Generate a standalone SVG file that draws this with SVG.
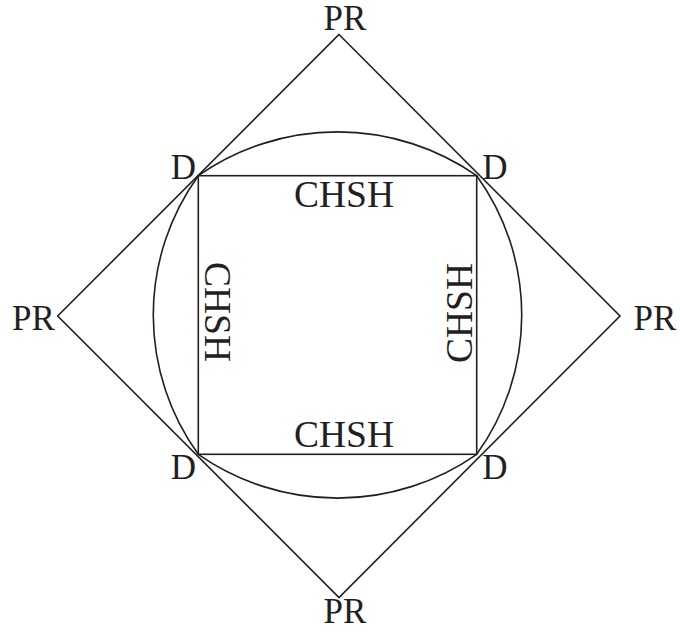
<svg xmlns="http://www.w3.org/2000/svg" width="680" height="635" viewBox="0 0 680 635">
<style>
.ln{fill:none;stroke:#231f20;stroke-width:1.6;stroke-linejoin:miter}
.t{font-family:"Liberation Serif","Times New Roman",serif;font-size:35px;fill:#231f20}
.c{font-size:37.5px}
.m{text-anchor:middle}
</style>
<rect width="680" height="635" fill="#fff"/>
<g id="connectors">
<path id="diamond" class="ln" d="M339,34.5 L620,316 L339,597.5 L57.7,316 Z"/>
<path id="rounded" class="ln" d="M198.3,175.7 A243,243 0 0 1 476.7,175.7 A238,238 0 0 1 476.7,454.3 A243,243 0 0 1 198.3,454.3 A238,238 0 0 1 198.3,175.7 Z"/>
<rect id="square" class="ln" x="198.3" y="175.7" width="278.4" height="278.6"/>
</g>
<g id="pr-top"><text class="t m" x="345" y="29.5">PR</text></g>
<g id="pr-bottom"><text class="t m" x="345" y="623">PR</text></g>
<g id="pr-left"><text class="t m" x="33.5" y="330">PR</text></g>
<g id="pr-right"><text class="t m" x="655" y="330">PR</text></g>
<g id="d-tl"><text class="t m" x="183.5" y="179">D</text></g>
<g id="d-tr"><text class="t m" x="495" y="179">D</text></g>
<g id="d-bl"><text class="t m" x="183.5" y="479">D</text></g>
<g id="d-br"><text class="t m" x="495" y="479">D</text></g>
<g id="chsh-top"><text class="t c m" x="344" y="207">CHSH</text></g>
<g id="chsh-bottom"><text class="t c m" x="344" y="447">CHSH</text></g>
<g id="chsh-left"><text class="t c m" transform="translate(205,312) rotate(90)">CHSH</text></g>
<g id="chsh-right"><text class="t c m" transform="translate(472,313) rotate(-90)">CHSH</text></g>
</svg>
